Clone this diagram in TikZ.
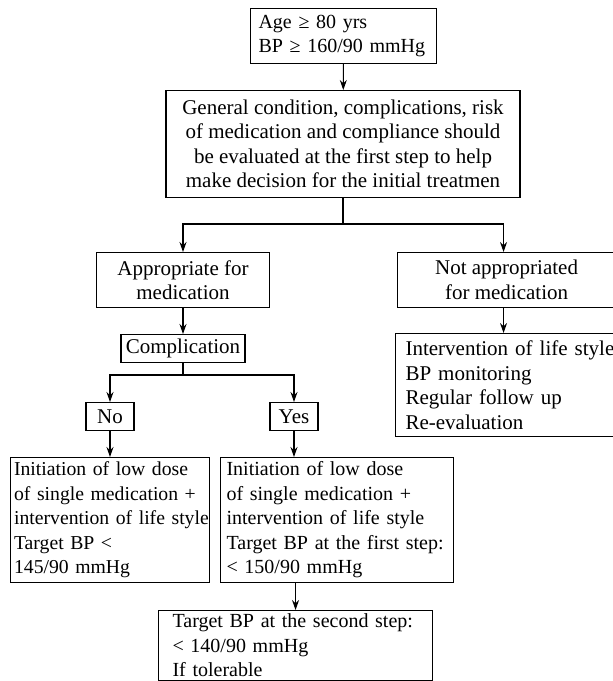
\documentclass[tikz,border=0pt]{standalone}
\usepackage{fontspec}
\setmainfont{Liberation Serif}
\usetikzlibrary{arrows.meta}

\tikzset{indent/.style={inner xsep=0pt, execute at begin node={\leftskip=#1}}}

\begin{document}
\begin{tikzpicture}[x=1pt, y=-1pt]
    \tikzstyle{block} = [rectangle, draw, line width=1.1pt, inner xsep=0pt, inner ysep=0pt, align=center, anchor=north, font=\fontsize{21}{24.5}\selectfont]
    \tikzstyle{list} = [block, align=left, anchor=north west]
    \tikzstyle{small} = [font=\fontsize{20}{24.5}\selectfont]
    \tikzstyle{line} = [line width=1.1pt]
    \tikzstyle{arrow} = [line, -{Stealth[length=10pt, width=7pt]}]

    \useasboundingbox (0,0) rectangle (613,681);
    \clip (0,0) rectangle (613,681);

    \node[list, small, indent=8pt, text width=186pt, minimum width=186pt, minimum height=55pt] (age) at (250,8) {Age ≥ 80 yrs\\BP ≥ 160/90 mmHg};
    \node[block, minimum width=354pt, minimum height=107pt] (eval) at (343,90) {General condition, complications, risk\\of medication and compliance should\\be evaluated at the first step to help\\make decision for the initial treatmen};

    \node[block, minimum width=173pt, minimum height=55pt] (appr) at (183,252) {Appropriate for\\medication};
    \node[block, anchor=north west, minimum width=218pt, minimum height=55pt] (notappr) at (397,252) {Not appropriated\\for medication};

    \node[block, minimum width=124pt, minimum height=28pt] (compl) at (183,334) {Complication};
    \node[list, indent=10pt, text width=240pt, minimum width=240pt, minimum height=103pt] (life) at (395,333) {Intervention of life style\\BP monitoring\\Regular follow up\\Re-evaluation};

    \node[block, minimum width=48pt, minimum height=28pt] (no) at (110,402) {No};
    \node[block, minimum width=48pt, minimum height=28pt] (yes) at (294,402) {Yes};

    \node[list, indent=3.5pt, font=\fontsize{19.7}{24.5}\selectfont, text width=199pt, minimum width=199pt, minimum height=125pt] (lowdose) at (10,457) {Initiation of low dose\\of single medication +\\intervention of life style\\Target BP <\\145/90 mmHg};
    \node[list, small, indent=6pt, text width=233pt, minimum width=233pt, minimum height=125pt] (firststep) at (220,457) {Initiation of low dose\\of single medication +\\intervention of life style\\Target BP at the first step:\\< 150/90 mmHg};

    \node[list, small, indent=14pt, text width=274pt, minimum width=274pt, minimum height=70pt] (second) at (158,610) {Target BP at the second step:\\< 140/90 mmHg\\If tolerable};

    \coordinate (split) at (343,224);
    \coordinate (splitcompl) at (183,375);

    \draw[arrow] (age) -- (eval);
    \draw[line] (eval) -- (split);
    \draw[arrow] (split) -| (appr);
    \draw[arrow] (split) -| ([xshift=-3pt]notappr.north);
    \draw[arrow] (appr) -- (compl);
    \draw[arrow] ([xshift=-3pt]notappr.south) -- ([xshift=-3pt]notappr.south |- life.north);
    \draw[line] (compl) -- (splitcompl);
    \draw[arrow] (splitcompl) -| (no);
    \draw[arrow] (splitcompl) -| (yes);
    \draw[arrow] (no) -- (no |- lowdose.north);
    \draw[arrow] (yes) -- (yes |- firststep.north);
    \draw[arrow] (firststep.south -| second.north) -- (second);
\end{tikzpicture}
\end{document}
